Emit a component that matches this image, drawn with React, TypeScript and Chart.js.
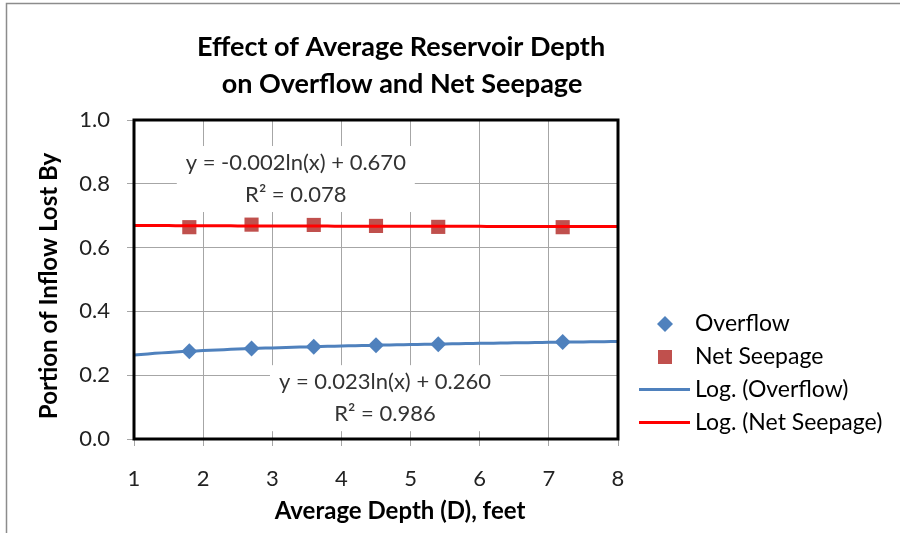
import React, { useEffect, useRef } from "react";
import { Chart, registerables } from "chart.js";
Chart.register(...registerables);

const DEPTHS = [1.8, 2.7, 3.6, 4.5, 5.4, 7.2];
const OVERFLOW = [0.275, 0.284, 0.289, 0.294, 0.297, 0.304];
const NET_SEEPAGE = [0.664, 0.672, 0.671, 0.668, 0.665, 0.664];
const X_MIN = 1;
const X_MAX = 8;
const Y_MIN = 0;
const Y_MAX = 1;
const TITLE_LINES = ["Effect of Average Reservoir Depth", "on Overflow and Net Seepage"];
const X_TITLE = "Average Depth (D), feet";
const Y_TITLE = "Portion of Inflow Lost By";
const SEEPAGE_EQ = ["y = -0.002ln(x) + 0.670", "R² = 0.078"];
const OVERFLOW_EQ = ["y = 0.023ln(x) + 0.260", "R² = 0.986"];
const LEGEND_LABELS = ["Overflow", "Net Seepage", "Log. (Overflow)", "Log. (Net Seepage)"];

const BLUE = "#4F81BD";
const MAROON = "#C0504D";
const RED = "#FF0000";
const FONT = "Lato, 'Open Sans', sans-serif";

// logarithmic least-squares fit (as Excel's "Log." trendline)
function logFit(xs: number[], ys: number[]) {
  const lx = xs.map((x) => Math.log(x));
  const n = xs.length;
  const mx = lx.reduce((a, b) => a + b, 0) / n;
  const my = ys.reduce((a, b) => a + b, 0) / n;
  let sxy = 0, sxx = 0;
  for (let i = 0; i < n; i++) {
    sxy += (lx[i] - mx) * (ys[i] - my);
    sxx += (lx[i] - mx) ** 2;
  }
  const a = sxy / sxx;
  const b = my - a * mx;
  const pts: { x: number; y: number }[] = [];
  const steps = 70;
  for (let i = 0; i <= steps; i++) {
    const x = X_MIN + ((X_MAX - X_MIN) * i) / steps;
    pts.push({ x, y: a * Math.log(x) + b });
  }
  return pts;
}

const decorPlugin = {
  id: "decor",
  beforeDraw(chart: any) {
    const { ctx, width, height } = chart;
    ctx.save();
    ctx.fillStyle = "#ffffff";
    ctx.fillRect(0, 0, width, height);
    ctx.strokeStyle = "#8c8c8c";
    ctx.lineWidth = 1.5;
    ctx.beginPath();
    ctx.moveTo(6.5, height);
    ctx.lineTo(6.5, 3.5);
    ctx.lineTo(width, 3.5);
    ctx.stroke();
    ctx.restore();
  },
  beforeDatasetsDraw(chart: any) {
    const { ctx } = chart;
    const xs = chart.scales.x;
    const ys = chart.scales.y;
    ctx.save();
    const drawEq = (lines: string[], cx: number, cy: number, bw: number, bh: number) => {
      ctx.fillStyle = "#ffffff";
      ctx.fillRect(cx - bw / 2, cy - bh / 2, bw, bh);
      ctx.fillStyle = "#333333";
      ctx.font = `22px ${FONT}`;
      ctx.textAlign = "center";
      ctx.textBaseline = "middle";
      ctx.fillText(lines[0], cx, cy - 16);
      ctx.fillText(lines[1], cx, cy + 16);
    };
    drawEq(SEEPAGE_EQ, xs.getPixelForValue(3.34), ys.getPixelForValue(0.815), 238, 66);
    drawEq(OVERFLOW_EQ, xs.getPixelForValue(4.63), ys.getPixelForValue(0.128), 230, 66);
    ctx.restore();
  },
  afterDatasetsDraw(chart: any) {
    const { ctx, chartArea } = chart;
    ctx.save();
    // plot frame
    ctx.strokeStyle = "#000000";
    ctx.lineWidth = 3;
    ctx.strokeRect(chartArea.left, chartArea.top, chartArea.right - chartArea.left, chartArea.bottom - chartArea.top);

    ctx.fillStyle = "#000000";
    ctx.textAlign = "center";
    ctx.textBaseline = "middle";
    ctx.font = `bold 27px ${FONT}`;
    ctx.fillText(TITLE_LINES[0], 401, 47);
    ctx.fillText(TITLE_LINES[1], 402, 84);

    ctx.font = `bold 24px ${FONT}`;
    ctx.fillText(X_TITLE, 400, 511);
    ctx.save();
    ctx.translate(49, 286);
    ctx.rotate(-Math.PI / 2);
    ctx.fillText(Y_TITLE, 0, 0);
    ctx.restore();

    // legend
    const rows = [324, 357, 389.5, 422.5];
    const mx = 665;
    ctx.fillStyle = BLUE;
    ctx.beginPath();
    ctx.moveTo(mx, rows[0] - 8);
    ctx.lineTo(mx + 8, rows[0]);
    ctx.lineTo(mx, rows[0] + 8);
    ctx.lineTo(mx - 8, rows[0]);
    ctx.closePath();
    ctx.fill();
    ctx.fillStyle = MAROON;
    ctx.fillRect(mx - 7, rows[1] - 7, 14, 14);
    ctx.lineWidth = 3;
    ctx.strokeStyle = BLUE;
    ctx.beginPath();
    ctx.moveTo(639, rows[2]);
    ctx.lineTo(690, rows[2]);
    ctx.stroke();
    ctx.strokeStyle = RED;
    ctx.beginPath();
    ctx.moveTo(639, rows[3]);
    ctx.lineTo(690, rows[3]);
    ctx.stroke();
    ctx.fillStyle = "#000000";
    ctx.font = `23px ${FONT}`;
    ctx.textAlign = "left";
    LEGEND_LABELS.forEach((t, i) => ctx.fillText(t, 695, rows[i]));
    ctx.restore();
  },
};

export default function App() {
  const ref = useRef<HTMLCanvasElement | null>(null);
  useEffect(() => {
    if (!ref.current) return;
    const chart = new Chart(ref.current, {
      type: "scatter",
      data: {
        datasets: [
          {
            label: LEGEND_LABELS[2],
            type: "line",
            data: logFit(DEPTHS, OVERFLOW),
            borderColor: BLUE,
            borderWidth: 3,
            pointRadius: 0,
            tension: 0,
          } as any,
          {
            label: LEGEND_LABELS[3],
            type: "line",
            data: logFit(DEPTHS, NET_SEEPAGE),
            borderColor: RED,
            borderWidth: 3,
            pointRadius: 0,
            tension: 0,
          } as any,
          {
            label: LEGEND_LABELS[0],
            data: DEPTHS.map((x, i) => ({ x, y: OVERFLOW[i] })),
            pointStyle: "rectRot",
            pointRadius: 8,
            backgroundColor: BLUE,
            borderColor: BLUE,
            borderWidth: 0,
          },
          {
            label: LEGEND_LABELS[1],
            data: DEPTHS.map((x, i) => ({ x, y: NET_SEEPAGE[i] })),
            pointStyle: "rect",
            pointRadius: 10,
            backgroundColor: MAROON,
            borderColor: MAROON,
            borderWidth: 0,
          },
        ],
      },
      options: {
        responsive: false,
        animation: false,
        layout: { padding: { left: 0, top: 120, right: 282, bottom: 0 } },
        plugins: { legend: { display: false }, title: { display: false }, tooltip: { enabled: false } },
        scales: {
          x: {
            type: "linear",
            min: X_MIN,
            max: X_MAX,
            ticks: { stepSize: 1, color: "#222", font: { family: FONT, size: 22 }, padding: 20 },
            grid: { color: "#a6a6a6", lineWidth: 1, tickLength: 7 },
            border: { display: false },
            afterFit: (s: any) => { s.height = 94; },
          },
          y: {
            type: "linear",
            min: Y_MIN,
            max: Y_MAX,
            ticks: { stepSize: 0.2, color: "#222", font: { family: FONT, size: 22 }, padding: 17, callback: (v: any) => Number(v).toFixed(1) },
            grid: { color: "#a6a6a6", lineWidth: 1, tickLength: 7 },
            border: { display: false },
            afterFit: (s: any) => { s.width = 134; },
          },
        },
      } as any,
      plugins: [decorPlugin],
    });
    return () => chart.destroy();
  }, []);
  return (
    <div style={{ position: "fixed", left: 0, top: 0, width: 900, height: 533 }}>
      <canvas ref={ref} width={900} height={533} style={{ width: 900, height: 533 }} />
    </div>
  );
}
